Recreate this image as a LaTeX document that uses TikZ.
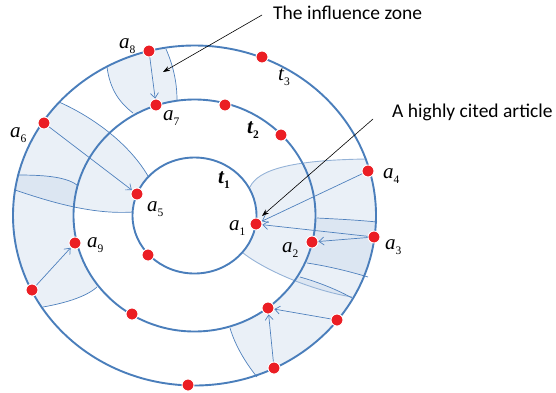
\documentclass[tikz,border=0pt]{standalone}
\usepackage{fontspec}
\setmainfont{Liberation Serif}
\newfontfamily\calib{Carlito}
\usetikzlibrary{arrows.meta}
\definecolor{ringc}{RGB}{74,126,187}
\definecolor{zonec}{RGB}{192,209,231}
\definecolor{zonelinec}{RGB}{79,129,189}
\definecolor{lightlinec}{RGB}{149,179,215}
\definecolor{dotc}{RGB}{235,30,36}
\newcommand{\lbl}[2]{{\fontsize{21}{21}\selectfont\itshape #1}\raisebox{-5pt}{\fontsize{11.5}{11.5}\selectfont #2}}
\newcommand{\blbl}[2]{{\fontsize{21}{21}\selectfont\bfseries\itshape #1}\raisebox{-5pt}{\fontsize{11.5}{11.5}\selectfont\bfseries #2}}
\begin{document}
\begin{tikzpicture}[x=1pt,y=-1pt,
 ring/.style={draw=ringc, line width=1.9pt},
 zone/.style={fill=zonec, fill opacity=0.33},
 zline/.style={draw=zonelinec, line width=0.7pt},
 lline/.style={draw=lightlinec, line width=0.9pt},
 dot/.style={circle, fill=dotc, draw=white, line width=0.9pt, minimum size=12pt, inner sep=0pt},
 barrow/.style={draw=zonelinec, line width=0.7pt, -{Straight Barb[length=5pt,width=8pt]}},
 karrow/.style={draw=black, line width=0.6pt, -{Stealth[length=7pt,width=5pt]}},
 lab/.style={anchor=base west, inner sep=0pt},
 call/.style={anchor=base west, inner sep=0pt, font=\calib\fontsize{19.5}{20}\selectfont},
]
\useasboundingbox (0,0) rectangle (556,392);
\coordinate (C) at (194.5,215.5);

% zones in the outer annulus
\begin{scope}[even odd rule]
\clip (C) ellipse [x radius=181.5pt, y radius=170pt] (C) ellipse [x radius=121pt, y radius=116pt];
\fill[zone] (100,50) -- (107,67) .. controls (110,90) and (120,103) .. (133,113) -- (140,125) -- (180,115) -- (177,100) .. controls (177,82) and (173,65) .. (166,49) -- (164,35) -- cycle;
\fill[zone] (0,173) -- (17,175) .. controls (40,175) and (65,176) .. (77,185) -- (90,187) -- (105,280) -- (97,287) .. controls (85,298) and (60,304) .. (43,307) -- (30,320) -- (0,320) -- cycle;
\fill[zone] (317,218) .. controls (337,219) and (357,220) .. (377,222) -- (395,222) -- (390,285) -- (368,277) .. controls (348,271) and (327,266) .. (307,263) -- (295,262) -- (300,218) -- cycle;
\fill[zone] (300,277) .. controls (318,282) and (338,290) .. (352,298) -- (375,310) -- (262,395) -- (257,377) .. controls (245,362) and (235,345) .. (230,328) -- (240,310) -- (290,270) -- cycle;
\end{scope}
% zones spanning to the inner circle
\begin{scope}[even odd rule]
\clip (C) ellipse [x radius=181.5pt, y radius=170pt] (C) ellipse [x radius=62pt, y radius=58pt];
\fill[zone] (55,95) -- (59,102) .. controls (95,118) and (130,145) .. (148,176) -- (160,190) -- (145,215) -- (133,212) .. controls (90,215) and (45,200) .. (15,190) -- (0,187) -- (5,100) -- cycle;
\fill[zone] (250,187) .. controls (258,170) and (290,160) .. (367,159) -- (390,158) -- (395,300) -- (352,297) .. controls (310,290) and (265,270) .. (243,253) -- (235,220) -- cycle;
\end{scope}

% zone borders
\draw[zline] (107,67) .. controls (110,90) and (120,103) .. (133,113);
\draw[zline] (166,49) .. controls (173,65) and (177,82) .. (177,100);
\draw[zline] (59,102) .. controls (95,118) and (130,145) .. (148,176);
\draw[zline] (15,190) .. controls (45,200) and (90,215) .. (133,212);
\draw[zline] (17,175) .. controls (40,175) and (65,176) .. (77,185);
\draw[zline] (43,307) .. controls (60,304) and (85,298) .. (97,287);
\draw[lline] (250,187) .. controls (258,170) and (290,160) .. (367,159);
\draw[lline] (243,253) .. controls (265,270) and (310,290) .. (352,297);
\draw[zline] (317,218) .. controls (337,219) and (357,220) .. (377,222);
\draw[zline] (307,263) .. controls (327,266) and (348,271) .. (368,277);
\draw[zline] (300,277) .. controls (318,282) and (338,290) .. (352,298);
\draw[zline] (230,328) .. controls (235,345) and (245,362) .. (257,377);

% rings
\draw[ring] (C) ellipse [x radius=181.5pt, y radius=170pt];
\draw[ring] (C) ellipse [x radius=121pt, y radius=116pt];
\draw[ring] (C) ellipse [x radius=62pt, y radius=58pt];

% dots
\node[dot] (a8) at (149,51) {};
\node[dot] (o2) at (262,57) {};
\node[dot] (a6) at (44,123) {};
\node[dot] (a4) at (368,171) {};
\node[dot] (a3) at (374,237) {};
\node[dot] (o6) at (337,320) {};
\node[dot] (o7) at (274,368) {};
\node[dot] (o8) at (188,385) {};
\node[dot] (o9) at (32,290) {};
\node[dot] (a7) at (156,105) {};
\node[dot] (m2) at (225,105) {};
\node[dot] (m3) at (281,135) {};
\node[dot] (a2) at (312,242) {};
\node[dot] (m5) at (268,308) {};
\node[dot] (m6) at (132,314) {};
\node[dot] (a9) at (75,243) {};
\node[dot] (a5) at (137,194) {};
\node[dot] (a1) at (256,224) {};
\node[dot] (i3) at (148,255) {};

% citation arrows
\draw[barrow] (a8) -- (a7);
\draw[barrow] (a6) -- (a5);
\draw[barrow] (o9) -- (a9);
\draw[barrow] (a4) -- (a1);
\draw[barrow] (a3) -- (a1);
\draw[barrow] (a3) -- (a2);
\draw[barrow] (o6) -- (m5);
\draw[barrow] (o7) -- (m5);

% labels
\node[lab] (la8) at (119,48) {\lbl{a}{8}};
\node[lab] (la7) at (163,120) {\lbl{a}{7}};
\node[lab] (la6) at (10,137) {\lbl{a}{6}};
\node[lab] (lt3) at (278,80) {\lbl{t}{3}};
\node[lab] (lt2) at (247,133) {\blbl{t}{2}};
\node[lab] (lt1) at (218,183) {\blbl{t}{1}};
\node[lab] (la5) at (147,211) {\lbl{a}{5}};
\node[lab] (la1) at (229,230) {\lbl{a}{1}};
\node[lab] (la2) at (282,252) {\lbl{a}{2}};
\node[lab] (la3) at (385,249) {\lbl{a}{3}};
\node[lab] (la4) at (383,178) {\lbl{a}{4}};
\node[lab] (la9) at (87,247) {\lbl{a}{9}};

% callouts
\node[call] (zone) at (273,19) {The influence zone};
\node[call] (art) at (392,117) {A highly cited article};
\coordinate (s1) at (262,15);
\coordinate (e1) at (163,72);
\draw[karrow] (s1) -- (e1);
\coordinate (s2) at (373,119);
\coordinate (e2) at (262,216);
\draw[karrow] (s2) -- (e2);
\end{tikzpicture}
\end{document}
